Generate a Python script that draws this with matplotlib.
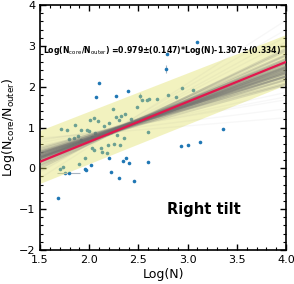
import numpy as np
import matplotlib
matplotlib.use('Agg')
import matplotlib.pyplot as plt
from matplotlib.ticker import MultipleLocator

# measured points: Log(N) vs Log(Ncore/Nouter)
log_n = [1.71, 2.10, 2.07, 2.27, 2.39, 2.79, 3.10, 3.36, 3.13, 2.93,
         3.00, 1.68, 1.96, 1.97, 2.02, 2.20, 2.22, 2.30, 2.34, 2.37,
         2.40, 2.60, 2.46, 2.24,
         1.77, 1.86, 1.92, 1.98, 2.00, 2.01, 2.05, 2.09, 2.15, 2.20,
         2.06, 2.19, 2.27, 2.30, 2.32, 2.36, 2.42, 2.49, 2.54, 2.59,
         2.61, 2.69, 2.80, 2.88, 2.94, 3.05, 1.79, 1.85, 1.89, 1.92,
         2.03, 2.03, 2.05, 2.13, 2.18, 2.12, 2.19, 2.25, 1.96, 1.90,
         1.73, 1.70, 1.75, 2.22, 2.26, 2.28, 2.35, 2.60, 2.31]
log_ratio = [0.96, 2.09, 1.76, 1.78, 1.90, 2.80, 3.10, 0.96, 0.64, 0.55,
             0.58, -0.73, -0.01, -0.05, 0.07, 0.26, -0.10, -0.24, 0.17, 0.25,
             0.14, 0.15, -0.31, 1.45,
             0.95, 1.05, 0.95, 0.95, 0.91, 1.18, 1.24, 1.15, 1.03, 1.10,
             0.86, 0.86, 1.26, 1.19, 1.29, 1.33, 1.21, 1.51, 1.68, 1.68,
             1.70, 1.70, 1.79, 1.74, 1.98, 1.93, 0.72, 0.74, 0.78, 0.70,
             0.76, 0.49, 0.46, 0.41, 0.37, 0.50, 0.56, 0.60, 0.25, 0.11,
             0.03, -0.01, -0.11, 0.90, 0.97, 0.81, 0.75, 0.89, 0.56]

# points with error bars
err_x = [2.52, 2.78, 1.79]
err_y = [1.77, 2.43, -0.12]
err_xerr = [0.0, 0.0, 0.12]
err_yerr = [0.08, 0.10, 0.0]

# bootstrap fit lines (slope, intercept): core samples
boot_slope = [0.63, 0.66, 0.69, 0.71, 0.73, 0.75, 0.76, 0.77, 0.79, 0.80,
              0.81, 0.82, 0.83, 0.84, 0.85, 0.85, 0.86, 0.87, 0.88, 0.89,
              0.90, 0.91, 0.92, 0.93, 0.95, 0.96, 0.98, 1.00, 1.02, 1.05,
              1.08, 1.12, 1.17, 0.83, 0.87, 0.91, 0.79, 0.95, 0.75]
boot_icpt = [-0.44, -0.59, -0.60, -0.60, -0.74, -0.72, -0.78, -0.75, -0.91, -0.87,
             -0.85, -0.94, -0.91, -0.97, -0.92, -1.03, -0.99, -1.05, -1.02, -1.11,
             -1.10, -1.08, -1.20, -1.15, -1.23, -1.20, -1.32, -1.32, -1.40, -1.42,
             -1.56, -1.60, -1.75, -0.95, -1.03, -1.13, -0.83, -1.18, -0.75]
# faint outlying samples
wide_slope = [0.52, 0.40, 1.25, 0.30, 1.40, 0.20, 1.55, 0.45, 1.32]
wide_icpt = [-0.22, 0.08, -1.90, 0.26, -2.20, 0.44, -2.57, -0.05, -2.05]

# confidence band edges
band_x = [1.5, 4.0]
band_lo = [-0.37, 2.05]
band_hi = [0.93, 3.28]

slope, icpt = 0.979, -1.307

fig = plt.figure(figsize=(2.94, 2.84), dpi=100)
ax = fig.add_axes([0.136, 0.120, 0.837, 0.862])

ax.plot(log_n, log_ratio, 'o', color='#1f77b4', ms=2.6, mew=0, zorder=1)
ax.errorbar(err_x, err_y, xerr=err_xerr, yerr=err_yerr, fmt='o', color='#1f77b4',
            ms=2.6, mew=0, ecolor='#a8b4c0', elinewidth=0.8, zorder=1)

ax.fill_between(band_x, band_lo, band_hi, color='#e0e060', alpha=0.4, lw=0, zorder=2)

xx = np.array([1.5, 4.0])
for s, b in zip(boot_slope, boot_icpt):
    ax.plot(xx, s * xx + b, color='#6e6e6e', alpha=0.2, lw=1.5, zorder=3)
for s, b in zip(wide_slope, wide_icpt):
    ax.plot(xx, s * xx + b, color='gray', alpha=0.06, lw=1.0, zorder=3)

ax.plot(xx, slope * xx + icpt, color='#e3174d', lw=1.6, zorder=4)

ax.text(1.53, 2.88, 'Log(N$_{\\rm core}$/N$_{\\rm outer}$) =0.979\u00b1(0.147)*Log(N)-1.307\u00b1(0.334)',
        fontsize=5.6, fontweight='bold', va='center', ha='left', zorder=5)
ax.text(3.17, -1.0, 'Right tilt', fontsize=10.5, fontweight='bold', ha='center', va='center')

ax.set_xlim(1.5, 4.0)
ax.set_ylim(-2, 4)
ax.xaxis.set_major_locator(MultipleLocator(0.5))
ax.xaxis.set_minor_locator(MultipleLocator(0.1))
ax.yaxis.set_major_locator(MultipleLocator(1))
ax.yaxis.set_minor_locator(MultipleLocator(0.2))
ax.tick_params(which='both', direction='in', top=True, right=True, labelsize=8)
ax.tick_params(which='major', length=4, width=1)
ax.tick_params(which='minor', length=2.5, width=0.8)
for sp in ax.spines.values():
    sp.set_linewidth(1.2)

ax.set_xlabel('Log(N)', fontsize=9, labelpad=2)
ax.set_ylabel(r'Log(N$_{\rm core}$/N$_{\rm outer}$)', fontsize=9, labelpad=1)

fig.savefig('out.png', dpi=100)
